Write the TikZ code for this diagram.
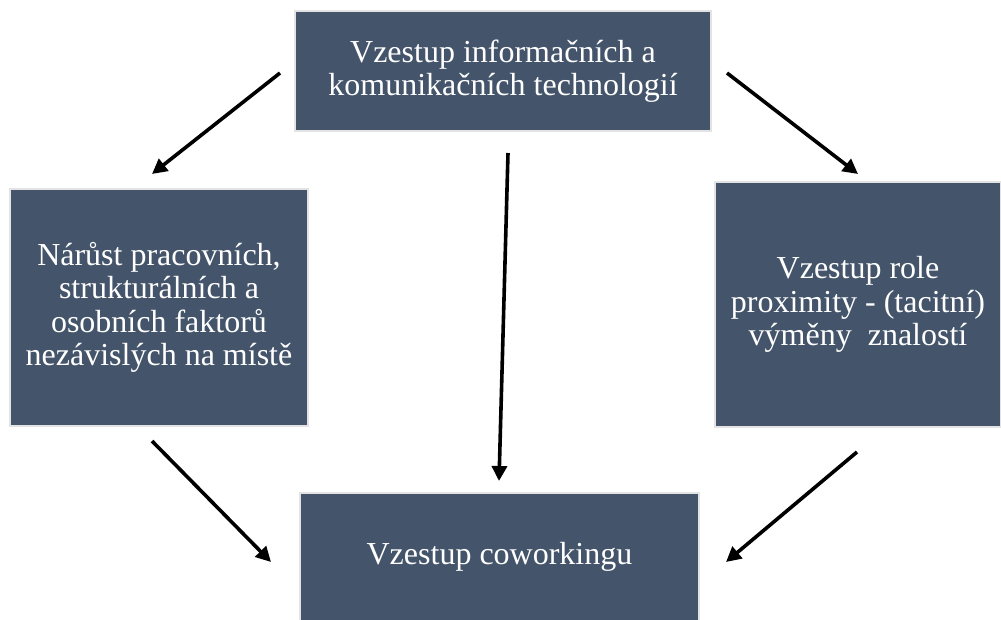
\documentclass[tikz,border=0pt]{standalone}
\usepackage{fontspec}
\setmainfont{Liberation Serif}
\usetikzlibrary{arrows.meta}
\definecolor{boxfill}{HTML}{44546A}
\definecolor{boxedge}{HTML}{E3E3E3}
\tikzset{
  box/.style={fill=boxfill, draw=boxedge, line width=1.5pt, text=white,
    align=center, inner sep=0pt,
    font=\fontsize{32}{33.5}\selectfont},
  flow/.style={line width=3.6pt, -{Triangle[length=15pt,width=15pt]}}
}
\begin{document}
\begin{tikzpicture}[x=1pt,y=-1pt]
\useasboundingbox (0,0) rectangle (1001,619);
% the four factor boxes
\node[box, minimum width=416pt, minimum height=120pt] (ict) at (503,71)
  {Vzestup informačních a\\komunikačních technologií};
\node[box, minimum width=298pt, minimum height=237pt] (work) at (159,307.5)
  {Nárůst pracovních,\\strukturálních a\\osobních faktorů\\nezávislých na místě};
\node[box, minimum width=286pt, minimum height=245pt] (prox) at (858,304.5)
  {Vzestup role\\proximity - (tacitní)\\výměny\ \ znalostí};
\node[box, minimum width=399pt, minimum height=128pt] (cowork) at (499.5,557)
  {Vzestup coworkingu};
% arrow end points
\coordinate (s1) at (280,73);  \coordinate (e1) at (152,174);
\coordinate (s2) at (727,73);  \coordinate (e2) at (858,174);
\coordinate (s3) at (508,153); \coordinate (e3) at (499,481);
\coordinate (s4) at (152,441); \coordinate (e4) at (271,562);
\coordinate (s5) at (857,452); \coordinate (e5) at (726,562);
\draw[flow] (s1) -- (e1);
\draw[flow] (s2) -- (e2);
\draw[flow] (s3) -- (e3);
\draw[flow] (s4) -- (e4);
\draw[flow] (s5) -- (e5);
\end{tikzpicture}
\end{document}
